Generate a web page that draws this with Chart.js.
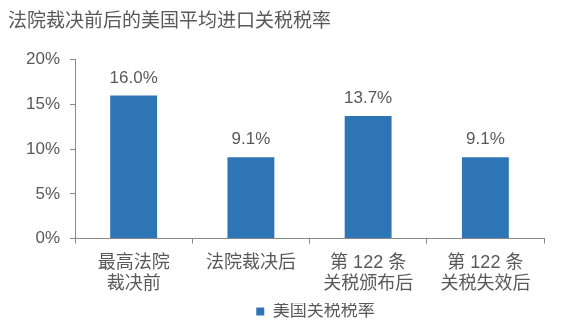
<!DOCTYPE html>
<html>
<head>
<meta charset="utf-8">
<script src="https://cdn.jsdelivr.net/npm/chart.js@4/dist/chart.umd.min.js"></script>
<style>
html,body{margin:0;padding:0;background:#fff;}
#wrap{width:564px;height:322px;position:relative;}
</style>
</head>
<body>
<div id="wrap"><canvas id="c" width="564" height="322"></canvas></div>
<script>
const categories = [["最高法院","裁决前"], "法院裁决后", ["第 122 条","关税颁布后"], ["第 122 条","关税失效后"]];
const tariffRates = [16.0, 9.1, 13.7, 9.1];
const seriesName = "美国关税税率";
const yTicks = [0, 5, 10, 15, 20];

const FONT = '"Liberation Sans", Arial, "Noto Sans CJK SC", sans-serif';
const GREY = '#595959';
const AXIS = '#898989';

const labelPlugin = {
  id: 'barLabels',
  afterLayout(chart) {
    if (chart.legend) { chart.legend.left += 6; chart.legend.right += 6; }
  },
  afterDatasetsDraw(chart) {
    const ctx = chart.ctx;
    const meta = chart.getDatasetMeta(0);
    ctx.save();
    ctx.font = '17px ' + FONT;
    ctx.fillStyle = GREY;
    ctx.textAlign = 'center';
    ctx.textBaseline = 'alphabetic';
    meta.data.forEach((bar, i) => {
      ctx.fillText(tariffRates[i].toFixed(1) + '%', bar.x, bar.y - 13);
    });
    ctx.restore();
  }
};

new Chart(document.getElementById('c'), {
  type: 'bar',
  data: {
    labels: categories,
    datasets: [{
      label: seriesName,
      data: tariffRates,
      backgroundColor: '#2E75B6',
      categoryPercentage: 1,
      barPercentage: 0.4
    }]
  },
  options: {
    responsive: false,
    animation: false,
    devicePixelRatio: 1,
    layout: { padding: { left: 8, right: 20, top: 0, bottom: -8 } },
    plugins: {
      title: {
        display: true,
        text: '法院裁决前后的美国平均进口关税税率',
        align: 'start',
        color: GREY,
        font: { family: FONT, size: 19, weight: 'normal' },
        padding: { top: 10, bottom: 27 }
      },
      legend: {
        position: 'bottom',
        fullSize: false,
        labels: {
          color: GREY,
          font: { family: FONT, size: 17 },
          boxWidth: 8,
          boxHeight: 8,
          padding: 0
        }
      },
      tooltip: { enabled: false }
    },
    scales: {
      x: {
        grid: { display: true, drawOnChartArea: false, offset: true, color: AXIS, tickLength: 5 },
        border: { display: true, color: AXIS, width: 1 },
        ticks: { color: GREY, font: { family: FONT, size: 18, lineHeight: 1.15 }, padding: 9, maxRotation: 0, autoSkip: false }
      },
      y: {
        afterFit(scale) { scale.width += 8; },
        min: 0, max: 20,
        afterBuildTicks(scale) { scale.ticks = yTicks.map(v => ({ value: v })); },
        grid: { display: true, drawOnChartArea: false, color: AXIS, tickLength: 5 },
        border: { display: true, color: AXIS, width: 1 },
        ticks: { color: GREY, font: { family: FONT, size: 17 }, padding: 10, callback: v => v + '%' }
      }
    }
  },
  plugins: [labelPlugin]
});
</script>
</body>
</html>
